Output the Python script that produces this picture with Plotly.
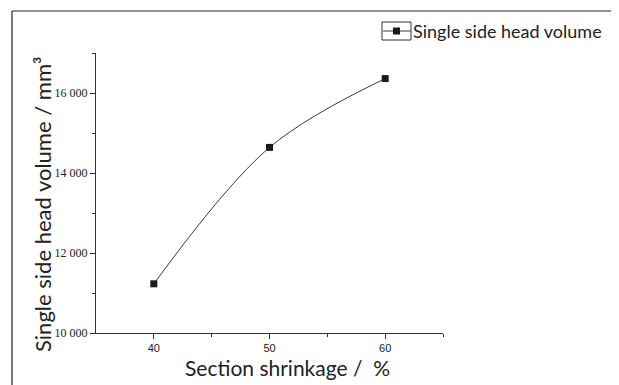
import plotly.graph_objects as go

# Data
shrinkage = [40, 50, 60]
head_volume = [11230, 14640, 16360]
series_name = "Single side head volume"
x_tick_vals = [40, 50, 60]
x_tick_text = ["40", "50", "60"]
y_tick_vals = [10000, 12000, 14000, 16000]
y_tick_text = ["10 000", "12 000", "14 000", "16 000"]

OFF = 8  # page body margin
W, H = 619 - OFF, 385 - OFF
# plot area in screen pixels
SL, SR, ST, SB = 96, 443, 53, 333
L, R, T, B = SL - OFF, SR - OFF, ST - OFF, SB - OFF


def px(x):
    return (x - SL) / (SR - SL)


def py(y):
    return (SB - y) / (SB - ST)


fig = go.Figure()
fig.add_trace(go.Scatter(
    x=shrinkage, y=head_volume, name=series_name,
    mode="lines+markers",
    line=dict(shape="spline", color="#3a3a3a", width=1),
    marker=dict(symbol="square", size=7, color="#1a1a1a"),
    showlegend=False,
))

axis_common = dict(
    showgrid=False, zeroline=False, showline=True, linecolor="#333",
    linewidth=1, ticks="outside", ticklen=5, tickcolor="#333",
    minor=dict(ticks="outside", ticklen=3, tickcolor="#333"),
)

fig.update_xaxes(range=[35, 65], tickvals=x_tick_vals, ticktext=x_tick_text,
                 tickfont=dict(family="Liberation Sans", size=11, color="#222"),
                 minor_tickvals=[45, 55, 65], **axis_common)
fig.update_yaxes(range=[10000, 17000], tickvals=y_tick_vals, ticktext=y_tick_text,
                 tickfont=dict(family="Liberation Serif", size=12, color="#222"),
                 minor_tickvals=[11000, 13000, 15000, 17000], **axis_common)

annotations = [
    dict(text="Section shrinkage /  %", x=px(287), y=py(367), xref="paper", yref="paper",
         showarrow=False, font=dict(family="Lato", size=21, color="#222"),
         xanchor="center", yanchor="middle"),
    dict(text="Single side head volume / mm³", x=px(42), y=py(205), xref="paper", yref="paper",
         showarrow=False, font=dict(family="Lato", size=22, color="#222"),
         textangle=-90, xanchor="center", yanchor="middle"),
    dict(text=series_name, x=px(411), y=py(31), xref="paper", yref="paper",
         showarrow=False, font=dict(family="Lato", size=18, color="#222"),
         xanchor="left", yanchor="middle"),
]

shapes = [
    # outer frame (top and left)
    dict(type="line", xref="paper", yref="paper", x0=px(12), x1=px(640), y0=py(11), y1=py(11),
         line=dict(color="#222", width=1.2)),
    dict(type="line", xref="paper", yref="paper", x0=px(12), x1=px(12), y0=py(11), y1=py(400),
         line=dict(color="#222", width=1.2)),
    # legend box
    dict(type="rect", xref="paper", yref="paper", x0=px(382), x1=px(411), y0=py(22), y1=py(40),
         line=dict(color="#333", width=1)),
    dict(type="line", xref="paper", yref="paper", x0=px(383), x1=px(411), y0=py(31), y1=py(31),
         line=dict(color="#3a3a3a", width=1)),
    dict(type="rect", xref="paper", yref="paper", x0=px(393), x1=px(400), y0=py(27.5), y1=py(34.5),
         line=dict(width=0), fillcolor="#1a1a1a"),
]

fig.update_layout(
    width=W, height=H,
    margin=dict(l=L, r=W - R, t=T, b=H - B),
    paper_bgcolor="white", plot_bgcolor="white",
    annotations=annotations, shapes=shapes,
)

fig.write_html("out.html")
